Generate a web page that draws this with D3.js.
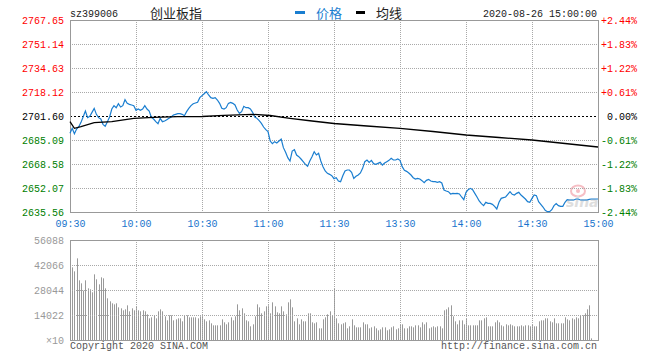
<!DOCTYPE html>
<html><head><meta charset="utf-8">
<script src="https://cdn.jsdelivr.net/npm/d3@7"></script>
<style>
html,body{margin:0;padding:0;background:#fff;}
svg{display:block;}
text{font-family:"Liberation Mono","DejaVu Sans Mono",monospace;font-size:10px;}
.cjk{font-family:"Noto Sans CJK SC",sans-serif;font-size:13px;}
</style></head><body>
<svg id="c" width="660" height="360"></svg>
<script>
const code = "sz399006";
const title = "创业板指";
const legendPrice = "价格";
const legendAvg = "均线";
const stamp = "2020-08-26 15:00:00";
const copyright = "Copyright 2020 SINA.COM";
const siteUrl = "http://finance.sina.com.cn";

const timeIdx = [0,30,60,90,120,150,180,210,240];
const timeLabels = ["09:30","10:00","10:30","11:00","11:30","13:30","14:00","14:30","15:00"];
const priceTicks = [2635.56,2652.07,2668.58,2685.09,2701.60,2718.12,2734.63,2751.14,2767.65];
const pctLabels = ["-2.44%","-1.83%","-1.22%","-0.61%","0.00%","+0.61%","+1.22%","+1.83%","+2.44%"];
const prevClose = 2701.60;
const volTicks = [0,14022,28044,42066,56088];
const volTickLabels = ["\u00d710","14022","28044","42066","56088"];

const prices = [
2689.68,2693.12,2689.45,2692.66,2694.26,2697.24,2701.14,2705.04,2700.45,2701.37,
2704.12,2706.87,2702.75,2700.45,2699.54,2695.87,2694.49,2697.70,2700.91,2706.42,
2708.71,2707.33,2710.08,2707.79,2708.71,2712.84,2710.31,2709.63,2709.17,2708.71,
2705.50,2706.42,2705.50,2706.42,2708.71,2706.42,2705.04,2700.68,2699.54,2697.70,
2696.33,2699.99,2697.70,2698.16,2699.08,2699.99,2700.91,2702.29,2702.75,2703.21,
2703.21,2702.75,2701.83,2704.58,2706.87,2708.71,2710.08,2710.54,2711.00,2714.21,
2715.59,
2716.96,2718.34,2716.05,2714.21,2713.75,2714.21,2712.61,2710.31,2706.87,2706.42,
2707.33,2710.31,2711.00,2710.31,2709.17,2705.73,2703.43,2704.58,2708.25,2707.33,
2707.33,2706.42,2704.12,2700.91,2699.99,2698.39,2696.56,2694.03,2692.20,2690.82,
2684.40,2682.57,2683.94,2683.03,2684.40,2685.78,2679.82,2676.61,2672.94,2670.64,
2677.52,2678.44,2674.77,2673.62,2672.02,2670.19,2668.35,2666.97,2670.64,2673.62,
2677.06,2674.77,2675.92,2670.64,2666.75,2663.76,2662.16,2661.47,2660.55,2658.50,
2659.18,2656.89,2656.43,2660.55,2663.76,2664.45,2664.45,2662.85,2658.72,2660.10,
2661.01,2662.39,2665.60,2670.19,2671.33,2669.73,2671.10,2668.81,2668.35,2669.04,
2669.73,2667.89,2669.27,2670.19,2671.10,2672.48,2671.33,2671.33,2672.02,2671.10,
2666.75,2664.22,2663.53,2662.39,2661.01,2659.18,2658.26,2658.72,2658.26,2657.11,
2655.74,2657.34,2658.03,2656.89,2656.43,2656.43,2655.97,2656.43,2655.51,2650.69,
2650.01,2649.55,2647.94,2648.40,2648.17,2648.40,2647.94,2645.88,2644.04,2649.09,
2650.92,2651.84,2650.92,2648.40,2645.88,2643.13,2641.29,2639.92,2642.21,2641.52,
2641.52,2640.83,2639.46,2637.62,2642.21,2644.96,2645.42,2645.88,2647.71,2649.55,
2647.71,2647.25,2648.40,2649.09,2647.25,2645.88,2644.50,2642.67,2642.21,2644.96,
2647.25,2646.80,2642.67,2640.83,2639.00,2636.71,2635.79,2635.79,2637.16,2639.92,
2641.29,2639.92,2639.46,2639.46,2642.21,2644.04,2643.81,2643.81,2643.81,2644.50,
2644.50,2643.81,2643.81,2643.81,2643.81,2644.27,2644.50,2644.50,2644.50,2644.50
];

const avgIdx = [0,2,5,11,19,29,38,49,60,70,83,91,100,110,120,135,150,165,180,195,210,225,240];
const avgVal = [2697.68,2693.14,2694.24,2696.99,2697.68,2700.02,2700.71,2701.12,2701.26,2702.08,2702.77,2701.94,2700.02,2698.16,2696.44,2694.72,2693.14,2690.94,2688.53,2686.81,2685.09,2682.68,2680.27];

const volumes = [
56088,40760,38510,45800,33470,31780,27670,33470,28980,28420,
26740,36830,34030,31220,35150,34590,28980,23370,21690,20570,
20000,20570,18320,17760,16640,17200,19440,16080,17760,16640,
18880,16640,16080,16640,16080,14400,12150,12710,13840,12150,
16080,17200,16080,13270,11030,13840,13840,11030,11590,12150,
12150,10470,13840,13840,12710,12710,12710,12710,12150,13270,
13840,11590,10470,11030,9350,8230,8230,8230,8230,11590,
9910,8790,9910,12710,11030,13270,20000,16640,17760,14960,
11030,10470,7670,8790,13270,20000,18320,14960,16080,18880,
19440,14960,21130,18880,15520,14960,18880,16080,14400,21130,
22810,18320,10470,12150,8790,11590,10470,10470,14960,14960,
9910,9350,9910,6540,6540,11590,12710,14400,16080,13840,
28980,12150,9350,8790,9350,9910,6540,7670,11590,8230,
7100,7100,7100,9910,8790,8790,6540,7100,7670,6540,
5420,5980,7100,7100,5420,5980,7100,7670,5980,6540,
8790,8790,6540,6540,7670,7670,7100,8230,8230,7100,
9910,8790,9910,6540,7100,7670,7100,7670,7670,6540,
16640,17200,18320,19440,13270,10470,8790,11030,11030,8790,
12150,8230,8230,8230,8230,8230,11030,11030,12150,12710,
7670,7670,7670,9910,11030,9910,8230,7670,8790,8230,
8790,8230,7670,7670,7670,8230,7670,8230,8230,7670,
8790,7670,7670,10470,11030,11030,12150,12150,10470,9910,
12150,9350,9350,9350,9350,12710,11590,11030,12150,11590,
12710,12150,13840,13840,14960,17200,19440,930,0,0,0
];

const svg = d3.select("#c");
const x = d3.scaleLinear().domain([0,240]).range([70,598]);
const y = d3.scaleLinear().domain([2635.56,2767.65]).range([212,20]);
const yv = d3.scaleLinear().domain([0,56088]).range([340,240]);

const gridColor = "#a8a8a8";
const blue = "#1a7ed0";

// watermark (behind)
const wm = svg.append("g").attr("opacity",0.55);
wm.append("ellipse").attr("cx",578).attr("cy",191).attr("rx",7).attr("ry",5.5)
  .attr("fill","none").attr("stroke","#f08a95").attr("stroke-width",2);
wm.append("circle").attr("cx",578).attr("cy",191).attr("r",2).attr("fill","#f08a95");
wm.append("text").attr("x",566).attr("y",207).text("sina")
  .style("font-family","DejaVu Sans").style("font-size","14px").style("font-weight","bold")
  .style("font-style","italic").attr("fill","#c4c4c4");

// ---- price panel grid ----
const pg = svg.append("g");
pg.selectAll("line.vg").data(timeIdx.slice(1,-1)).join("line")
  .attr("x1",d=>x(d)+0.5).attr("x2",d=>x(d)+0.5).attr("y1",20).attr("y2",212)
  .attr("stroke",gridColor).attr("stroke-dasharray","1,1");
pg.selectAll("line.hg").data(priceTicks.slice(1,-1).filter(d=>d!==prevClose)).join("line")
  .attr("x1",70).attr("x2",598).attr("y1",d=>y(d)+0.5).attr("y2",d=>y(d)+0.5)
  .attr("stroke",gridColor).attr("stroke-dasharray","1,1");
pg.append("line").attr("x1",70).attr("x2",598).attr("y1",y(prevClose)+0.5).attr("y2",y(prevClose)+0.5)
  .attr("stroke","#000").attr("stroke-dasharray","2,2");

// ---- volume panel grid + bars ----
const vg = svg.append("g");
vg.selectAll("rect.bar").data(volumes).join("rect")
  .attr("x",(d,i)=>Math.round(x(i))).attr("width",1)
  .attr("y",d=>yv(d)).attr("height",d=>yv(0)-yv(d))
  .attr("fill","#999");
vg.selectAll("line.vg").data(timeIdx.slice(1,-1)).join("line")
  .attr("x1",d=>x(d)+0.5).attr("x2",d=>x(d)+0.5).attr("y1",240).attr("y2",340)
  .attr("stroke",gridColor).attr("stroke-dasharray","1,1");
vg.selectAll("line.hg").data(volTicks.slice(1,-1)).join("line")
  .attr("x1",70).attr("x2",598).attr("y1",d=>yv(d)+0.5).attr("y2",d=>yv(d)+0.5)
  .attr("stroke",gridColor).attr("stroke-dasharray","1,1");

// borders
svg.append("rect").attr("x",70.5).attr("y",20.5).attr("width",528).attr("height",192)
  .attr("fill","none").attr("stroke","#999");
svg.append("rect").attr("x",70.5).attr("y",240.5).attr("width",528).attr("height",100)
  .attr("fill","none").attr("stroke","#999");

// ---- lines ----
svg.append("path").datum(prices)
  .attr("d", d3.line().x((d,i)=>x(i)).y(d=>y(d)))
  .attr("fill","none").attr("stroke",blue).attr("stroke-width",1.2);
svg.append("path").datum(avgIdx.map((d,i)=>[d,avgVal[i]]))
  .attr("d", d3.line().x(d=>x(d[0])).y(d=>y(d[1])))
  .attr("fill","none").attr("stroke","#000").attr("stroke-width",1.3);

// ---- axes ----
const colorFor = v => v > prevClose ? "#ff0000" : (v < prevClose ? "#008000" : "#000");
const la = svg.append("g").attr("transform","translate(70,0)")
  .call(d3.axisLeft(y).tickValues(priceTicks).tickSize(0).tickPadding(6).tickFormat(d3.format(".2f")));
la.select(".domain").remove();
la.selectAll("text").attr("fill",d=>colorFor(d)).style("font-family","Liberation Mono").style("font-size","10px");

const ra = svg.append("g").attr("transform","translate(598,0)")
  .call(d3.axisRight(y).tickValues(priceTicks).tickSize(0).tickFormat((d,i)=>pctLabels[i]));
ra.select(".domain").remove();
ra.selectAll("text").attr("text-anchor","end").attr("x",39)
  .attr("fill",d=>colorFor(d)).style("font-family","Liberation Mono").style("font-size","10px");

const ta = svg.append("g").attr("transform","translate(0,212)")
  .call(d3.axisBottom(x).tickValues(timeIdx).tickSize(0).tickPadding(8).tickFormat((d,i)=>timeLabels[i]));
ta.select(".domain").remove();
ta.selectAll("text").attr("fill","#1874cd").style("font-family","Liberation Mono").style("font-size","10px");

const va = svg.append("g").attr("transform","translate(70,0)")
  .call(d3.axisLeft(yv).tickValues(volTicks).tickSize(0).tickPadding(6).tickFormat((d,i)=>volTickLabels[i]));
va.select(".domain").remove();
va.selectAll("text").attr("fill","#999").style("font-family","Liberation Mono").style("font-size","10px");

// ---- header ----
svg.append("text").attr("x",70).attr("y",16.5).attr("fill","#222").text(code);
svg.append("text").attr("class","cjk").attr("x",150).attr("y",17.5).attr("fill","#222").text(title);
svg.append("rect").attr("x",295).attr("y",11).attr("width",10).attr("height",3).attr("fill",blue);
svg.append("text").attr("class","cjk").attr("x",316).attr("y",17.5).attr("fill",blue).text(legendPrice);
svg.append("rect").attr("x",356).attr("y",11).attr("width",9).attr("height",3).attr("fill","#000");
svg.append("text").attr("class","cjk").attr("x",376).attr("y",17.5).attr("fill","#222").text(legendAvg);
svg.append("text").attr("x",597).attr("y",16.5).attr("text-anchor","end").attr("fill","#222").text(stamp);

// ---- footer ----
svg.append("text").attr("x",70).attr("y",348.5).attr("fill","#555").text(copyright);
svg.append("text").attr("x",597).attr("y",348.5).attr("text-anchor","end").attr("fill","#555").text(siteUrl);
</script>
</body></html>
